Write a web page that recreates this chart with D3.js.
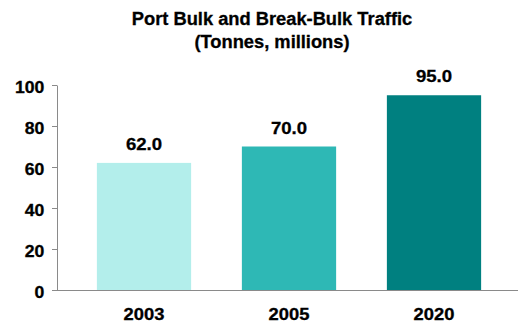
<!DOCTYPE html>
<html>
<head>
<meta charset="utf-8">
<script src="https://cdn.jsdelivr.net/npm/d3@7"></script>
<style>
  html, body { margin: 0; padding: 0; background: #fff; }
  svg { display: block; }
  text { font-family: "Liberation Sans", Arial, sans-serif; font-weight: bold; fill: #000;
         stroke: #000; stroke-width: 0.3px; }
</style>
</head>
<body>
<svg id="chart" width="518" height="325"></svg>
<script>
// Port traffic, tonnes (millions)
const years = ["2003", "2005", "2020"];
const traffic = [62.0, 70.0, 95.0];
const barColors = ["#b3eeeb", "#2eb8b5", "#008080"];
const yTicks = [0, 20, 40, 60, 80, 100];
const titleLines = ["Port Bulk and Break-Bulk Traffic", "(Tonnes, millions)"];

// all labels use a slightly widened bold sans
const WIDEN = 1.08;

const svg = d3.select("#chart");

const x = d3.scaleBand()
  .domain(years)
  .range([71.5, 506.5])
  .paddingInner(0.35)
  .paddingOuter(0.175);

const y = d3.scaleLinear()
  .domain([0, 100])
  .range([290, 85]);

// Title
svg.append("g")
  .selectAll("text")
  .data(titleLines)
  .join("text")
  .attr("transform", (d, i) => `translate(272,${25 + i * 22.5}) scale(1.04,1)`)
  .attr("text-anchor", "middle")
  .style("font-size", "17.6px")
  .text(d => d);

// Bars
svg.append("g")
  .selectAll("rect")
  .data(years)
  .join("rect")
  .attr("x", d => x(d))
  .attr("width", x.bandwidth())
  .attr("y", (d, i) => y(traffic[i]))
  .attr("height", (d, i) => y(0) - y(traffic[i]))
  .attr("fill", (d, i) => barColors[i]);

// Value labels above bars
svg.append("g")
  .selectAll("text")
  .data(years)
  .join("text")
  .attr("transform", (d, i) =>
    `translate(${x(d) + x.bandwidth() / 2},${y(traffic[i]) - 13}) scale(${WIDEN},1)`)
  .attr("text-anchor", "middle")
  .style("font-size", "17.2px")
  .text((d, i) => traffic[i].toFixed(1));

// Y axis
const yAxis = svg.append("g")
  .attr("transform", "translate(57,0)")
  .call(d3.axisLeft(y).tickValues(yTicks).tickSize(5).tickSizeOuter(0));
yAxis.select(".domain").attr("stroke", "#8a8a8a");
yAxis.selectAll(".tick line").attr("stroke", "#8a8a8a");
yAxis.selectAll(".tick text")
  .attr("x", 0)
  .attr("dy", null)
  .attr("transform", `translate(-12.6,7) scale(${WIDEN},1)`)
  .style("font-size", "16.3px")
  .style("font-family", "'Liberation Sans', Arial, sans-serif")
  .style("font-weight", "bold")
  .attr("fill", "#000");

// X axis
const xAxis = svg.append("g")
  .attr("transform", "translate(0,290)")
  .call(d3.axisBottom(x).tickSize(0));
xAxis.select(".domain").remove();
xAxis.selectAll(".tick text")
  .attr("y", 0)
  .attr("dy", null)
  .attr("transform", `translate(0,30) scale(1.12,1)`)
  .style("font-size", "16.4px")
  .style("font-family", "'Liberation Sans', Arial, sans-serif")
  .style("font-weight", "bold")
  .attr("fill", "#000");

// baseline across the full plot width
svg.append("line")
  .attr("x1", 57).attr("x2", 518)
  .attr("y1", y(0) + 0.5).attr("y2", y(0) + 0.5)
  .attr("stroke", "#8a8a8a");
</script>
</body>
</html>
